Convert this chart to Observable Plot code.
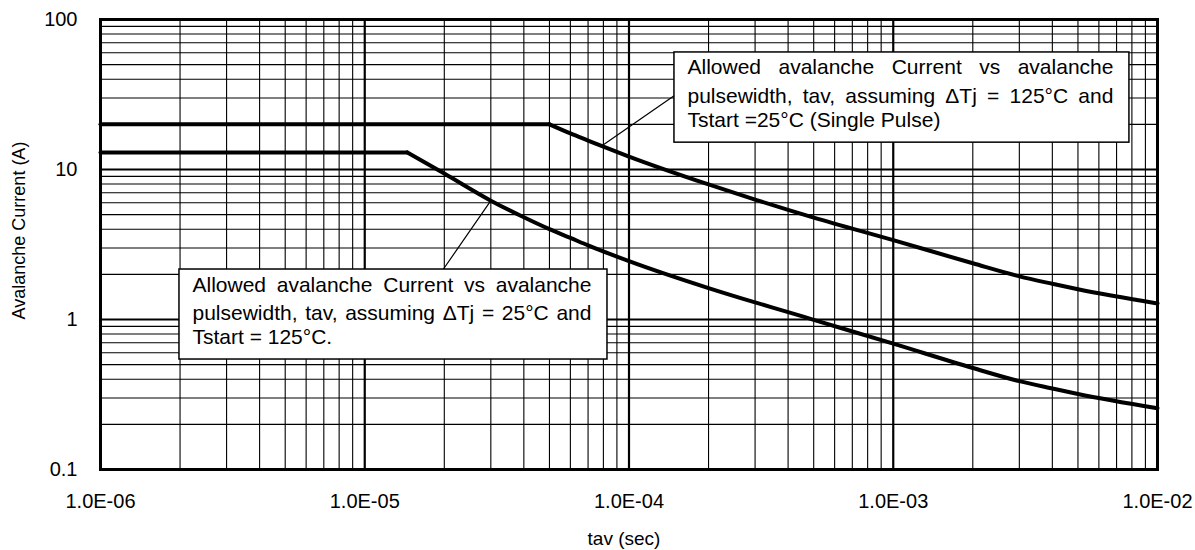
<!DOCTYPE html>
<html>
<head>
<meta charset="utf-8">
<script src="https://cdn.jsdelivr.net/npm/d3@7"></script>
<script src="https://cdn.jsdelivr.net/npm/@observablehq/plot@0.6"></script>
<style>
  html, body { margin: 0; padding: 0; background: #fff; }
  svg { font-family: "Liberation Sans", Arial, Helvetica, sans-serif; }
</style>
</head>
<body>
<div id="chart"></div>
<script>
// ---- data ----
const xDomain = [1e-6, 1e-2];
const yDomain = [0.1, 100];
const xTickValues = [1e-6, 1e-5, 1e-4, 1e-3, 1e-2];
const xTickLabels = ["1.0E-06", "1.0E-05", "1.0E-04", "1.0E-03", "1.0E-02"];
const yTickValues = [0.1, 1, 10, 100];
const yTickLabels = ["0.1", "1", "10", "100"];
const xTitle = "tav (sec)";
const yTitle = "Avalanche Current (A)";

// Single pulse, Tstart = 25°C, ΔTj = 125°C
const tavUpper = [1e-6, 5e-5, 6e-5, 7e-5, 8e-5, 1e-4, 2e-4, 3e-4, 4e-4, 5e-4, 1e-3, 2e-3, 3e-3, 4e-3, 5e-3, 1e-2];
const iavUpper = [20, 20, 17.4, 15.6, 14.2, 12.2, 7.95, 6.3, 5.38, 4.78, 3.38, 2.37, 1.94, 1.73, 1.59, 1.28];
// Tstart = 125°C, ΔTj = 25°C
const tavLower = [1e-6, 1.45e-5, 2e-5, 3e-5, 4e-5, 5e-5, 6e-5, 7e-5, 1e-4, 2e-4, 3e-4, 4e-4, 5e-4, 1e-3, 2e-3, 3e-3, 4e-3, 5e-3, 1e-2];
const iavLower = [13, 13, 9.4, 6.2, 4.8, 4.0, 3.5, 3.12, 2.45, 1.62, 1.30, 1.12, 0.995, 0.69, 0.475, 0.388, 0.347, 0.319, 0.256];

const upperNote = [
  "Allowed avalanche Current vs avalanche",
  "pulsewidth, tav, assuming ΔTj = 125°C and",
  "Tstart =25°C (Single Pulse)"
];
const lowerNote = [
  "Allowed avalanche Current vs avalanche",
  "pulsewidth, tav, assuming ΔTj = 25°C and",
  "Tstart = 125°C."
];

// annotation boxes placed in data coordinates
const notes = [
  {x1: 1.486e-4, x2: 7.83e-3, y1: 15.1, y2: 60.3, lines: upperNote,
   leader: [{x: 1.486e-4, y: 31.1}, {x: 7.9e-5, y: 14.4}]},
  {x1: 1.99e-6, x2: 8.29e-5, y1: 0.541, y2: 2.154, lines: lowerNote,
   leader: [{x: 1.98e-5, y: 2.154}, {x: 3.0e-5, y: 6.2}]}
];

// ---- build ----
// each curve: a flat plateau segment, then the decaying segment (sharing the corner)
function segments(ts, vs, name) {
  const out = [];
  const corner = vs.findIndex(v => v !== vs[0]) - 1;
  ts.forEach((t, i) => {
    if (i <= corner) out.push({t, a: vs[i], z: name + "-flat"});
    if (i >= corner) out.push({t, a: vs[i], z: name + "-decay"});
  });
  return out;
}
const curves = [...segments(tavUpper, iavUpper, "upper"), ...segments(tavLower, iavLower, "lower")];

const xGrid = d3.scaleLog().domain(xDomain).ticks();
const yGrid = d3.scaleLog().domain(yDomain).ticks();
const isMajor = (vals, d) => vals.some(v => Math.abs(v / d - 1) < 1e-6);
const fmtX = d => xTickLabels[xTickValues.findIndex(v => Math.abs(v / d - 1) < 1e-6)];
const fmtY = d => yTickLabels[yTickValues.findIndex(v => Math.abs(v / d - 1) < 1e-6)];

const lineOffsets = [22, 50.5, 74.5];
const textPad = 13;

const plot = Plot.plot({
  width: 1195,
  height: 550,
  marginLeft: 100,
  marginRight: 38,
  marginTop: 19,
  marginBottom: 81,
  style: {fontFamily: '"Liberation Sans", Arial, Helvetica, sans-serif', background: "#fff", color: "#000"},
  x: {type: "log", domain: xDomain, label: null},
  y: {type: "log", domain: yDomain, label: null},
  marks: [
    Plot.ruleX(xGrid, {stroke: "#000", strokeWidth: d => isMajor(xTickValues, d) ? 2.2 : 1.1}),
    Plot.ruleY(yGrid, {stroke: "#000", strokeWidth: d => isMajor(yTickValues, d) ? 2.2 : 1.1}),
    Plot.axisX(xTickValues, {tickSize: 0, tickPadding: 24, tickFormat: fmtX, fontSize: 20, label: null}),
    Plot.axisY(yTickValues, {tickSize: 0, tickPadding: 23, tickFormat: fmtY, fontSize: 20, label: null}),
    Plot.line(curves, {x: "t", y: "a", z: "z", stroke: "#000", strokeWidth: 4, curve: "monotone-x", strokeLinejoin: "round"}),
    ...notes.map(n => Plot.line(n.leader, {x: "x", y: "y", stroke: "#000", strokeWidth: 1.2})),
    Plot.rect(notes, {x1: "x1", x2: "x2", y1: "y1", y2: "y2", fill: "#fff", stroke: "#000", strokeWidth: 1.5}),
    ...lineOffsets.map((off, k) => Plot.text(notes, {
      x: "x1", y: "y2", text: d => d.lines[k], textAnchor: "start", lineAnchor: "bottom",
      dx: textPad, dy: off, fontSize: 21, fill: "#000"
    })),
    Plot.text([xTitle], {frameAnchor: "bottom", text: d => d, textAnchor: "middle", lineAnchor: "middle", dy: 69, dx: -5, fontSize: 19, fill: "#000"}),
    Plot.text([yTitle], {frameAnchor: "left", text: d => d, textAnchor: "middle", lineAnchor: "middle", rotate: -90, dx: -81, dy: -14, fontSize: 18, fill: "#000"}),
    Plot.frame({stroke: "#000", strokeWidth: 3})
  ]
});

document.getElementById("chart").append(plot);

// justify the first two lines of each note (as in the reference): words spread to the box width
const ns = "http://www.w3.org/2000/svg";
const xs = plot.scale("x");
function justify(textEl, target) {
  const words = textEl.textContent.split(" ");
  if (words.length < 2) return;
  const start = textEl.getStartPositionOfChar(0).x;
  textEl.textContent = "";
  const spans = words.map(w => {
    const s = document.createElementNS(ns, "tspan");
    s.textContent = w;
    textEl.appendChild(s);
    return s;
  });
  const widths = spans.map(s => s.getComputedTextLength());
  const gap = (target - d3.sum(widths)) / (words.length - 1);
  let x = start;
  spans.forEach((s, i) => { s.setAttribute("x", x.toFixed(2)); x += widths[i] + gap; });
}
[0, 1].forEach(k => {
  const groups = [...plot.querySelectorAll("g")].filter(g => {
    const ts = [...g.children].filter(c => c.tagName.toLowerCase() === "text");
    return ts.length === notes.length && ts.every((t, i) => t.textContent === notes[i].lines[k]);
  });
  groups.forEach(g => {
    [...g.children].filter(c => c.tagName.toLowerCase() === "text").forEach((t, i) => {
      const n = notes[i];
      const target = xs.apply(n.x2) - xs.apply(n.x1) - textPad - 16;
      justify(t, target);
    });
  });
});
</script>
</body>
</html>
